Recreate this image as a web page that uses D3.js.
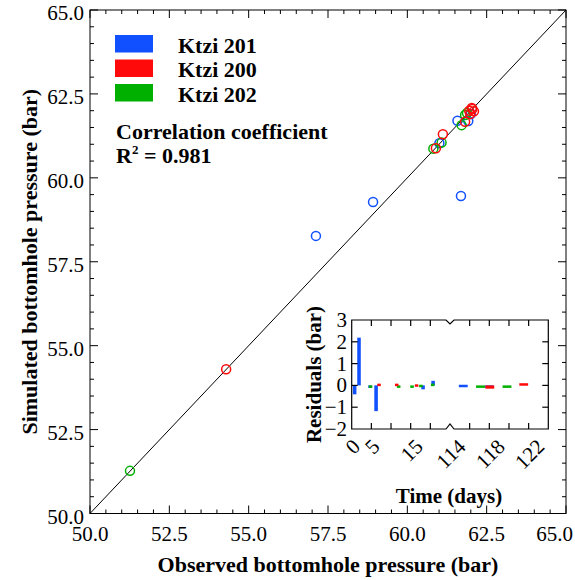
<!DOCTYPE html>
<html>
<head>
<meta charset="utf-8">
<script src="https://cdn.jsdelivr.net/npm/d3@7"></script>
<style>
  body { margin: 0; background: #fff; }
  svg { display: block; }
  text { font-family: "Liberation Serif", "Times New Roman", serif; fill: #000; }
</style>
</head>
<body>
<div id="chart"></div>
<script>

// Series
var seriesNames = ['Ktzi 201', 'Ktzi 200', 'Ktzi 202'];

// Observed vs simulated bottomhole pressure (bar)
var obs201 = [57.12, 58.92, 61.69, 61.01, 61.58, 61.92, 62.00];
var sim201 = [58.27, 59.28, 59.46, 61.03, 61.70, 61.69, 61.90];
var obs200 = [54.29, 60.90, 61.12, 61.82, 61.98, 62.03, 62.10, 61.95, 62.05];
var sim200 = [54.30, 60.88, 61.30, 61.67, 61.90, 62.08, 61.98, 62.00, 62.05];
var obs202 = [51.26, 60.82, 61.08, 61.71, 61.82, 61.88];
var sim202 = [51.27, 60.87, 61.05, 61.57, 61.87, 61.93];

// Residuals (bar) against time (days)
var t201 = [0.75, 1.86, 4.66, 6.2, 18.15, 20.7, 115.35, 118.0];
var r201 = [-0.41, 2.19, -0.05, -1.18, -0.18, 0.21, 0.03, -0.08];
var t200 = [6.95, 11.45, 16.5, 118.05, 121.5];
var r200 = [0.08, 0.08, 0.05, -0.15, 0.10];
var t202 = [4.8, 11.95, 15.35, 17.6, 20.6, 117.1, 119.8];
var r202 = [-0.06, -0.10, -0.09, 0.03, 0.08, -0.02, -0.06];

// Tick labels
var pressureTicks = [50, 52.5, 55, 57.5, 60, 62.5, 65];
var residualTicks = [-2, -1, 0, 1, 2, 3];
var timeLabelsLeft = [0, 5, 15];
var timeLabelsRight = [114, 118, 122];

var r2Text = '0.981';

// colours
var colors = { 'Ktzi 201': '#1150ff', 'Ktzi 200': '#ff0a0a', 'Ktzi 202': '#00b000' };

var W = 575, H = 580;
var svg = d3.select('#chart').append('svg').attr('width', W).attr('height', H);

// ---------- main scatter ----------
var x = d3.scaleLinear().domain([50, 65]).range([90, 566]);
var y = d3.scaleLinear().domain([50, 65]).range([513.5, 10]);

var axes = svg.append('g').attr('stroke', '#000').attr('stroke-width', 1);

var minors = d3.range(50, 65.001, 0.5).filter(function(v) { return pressureTicks.indexOf(+v.toFixed(1)) < 0; });
function tickLen(v) { return pressureTicks.indexOf(+v.toFixed(1)) >= 0 ? 8 : 4; }
var allTicks = pressureTicks.concat(minors);

allTicks.forEach(function(v) {
  var l = tickLen(v);
  axes.append('line').attr('x1', x(v)).attr('x2', x(v)).attr('y1', y(50)).attr('y2', y(50) - l);
  axes.append('line').attr('x1', x(v)).attr('x2', x(v)).attr('y1', y(65)).attr('y2', y(65) + l);
  axes.append('line').attr('y1', y(v)).attr('y2', y(v)).attr('x1', x(50)).attr('x2', x(50) + l);
  axes.append('line').attr('y1', y(v)).attr('y2', y(v)).attr('x1', x(65)).attr('x2', x(65) - l);
});

axes.append('rect')
  .attr('x', x(50)).attr('y', y(65))
  .attr('width', x(65) - x(50)).attr('height', y(50) - y(65))
  .attr('fill', 'none');

// 1:1 line
svg.append('line')
  .attr('x1', x(50)).attr('y1', y(50)).attr('x2', x(65)).attr('y2', y(65))
  .attr('stroke', '#000').attr('stroke-width', 1);

// tick labels (last one pulled in so it stays on the page)
svg.selectAll('.xl').data(pressureTicks).enter().append('text')
  .attr('x', function(d, i) { return i === pressureTicks.length - 1 ? 573 : x(d); })
  .attr('y', 541)
  .attr('text-anchor', function(d, i) { return i === pressureTicks.length - 1 ? 'end' : 'middle'; })
  .style('font-size', '21px')
  .text(function(d) { return d3.format('.1f')(d); });

svg.selectAll('.yl').data(pressureTicks).enter().append('text')
  .attr('x', 84)
  .attr('y', function(d) { return y(d) + 10; })
  .attr('text-anchor', 'end')
  .style('font-size', '21px')
  .text(function(d) { return d3.format('.1f')(d); });

// axis titles
svg.append('text')
  .attr('x', (x(50) + x(65)) / 2).attr('y', 572)
  .attr('text-anchor', 'middle')
  .style('font-size', '22px').style('font-weight', 'bold')
  .text('Observed bottomhole pressure (bar)');

svg.append('text')
  .attr('transform', 'translate(37,' + ((y(50) + y(65)) / 2) + ') rotate(-90)')
  .attr('text-anchor', 'middle')
  .style('font-size', '22px').style('font-weight', 'bold')
  .text('Simulated bottomhole pressure (bar)');

// points
function pairs(o, s) { return o.map(function(v, i) { return [v, s[i]]; }); }
var scatter = [
  { name: 'Ktzi 201', pts: pairs(obs201, sim201) },
  { name: 'Ktzi 202', pts: pairs(obs202, sim202) },
  { name: 'Ktzi 200', pts: pairs(obs200, sim200) }
];

scatter.forEach(function(s) {
  svg.append('g').selectAll('circle').data(s.pts).enter().append('circle')
    .attr('cx', function(d) { return x(d[0]); })
    .attr('cy', function(d) { return y(d[1]); })
    .attr('r', 4.5)
    .attr('fill', 'none')
    .attr('stroke', colors[s.name])
    .attr('stroke-width', 1.5);
});

// legend
var legend = svg.append('g');
seriesNames.forEach(function(n, i) {
  var top = 35 + i * 24.5;
  legend.append('rect').attr('x', 115).attr('y', top).attr('width', 38).attr('height', 17.5)
    .attr('fill', colors[n]);
  legend.append('text').attr('x', 178).attr('y', top + 17.5)
    .style('font-size', '22px').style('font-weight', 'bold')
    .text(n);
});

svg.append('text').attr('x', 116).attr('y', 139)
  .style('font-size', '22px').style('font-weight', 'bold')
  .text('Correlation coefficient');

var r2 = svg.append('text').attr('x', 116).attr('y', 163)
  .style('font-size', '22px').style('font-weight', 'bold');
r2.append('tspan').text('R');
r2.append('tspan').attr('dy', -9).style('font-size', '13px').text('2');
r2.append('tspan').attr('dy', 9).text(' = ' + r2Text);

// ---------- inset residuals ----------
var iL = 351.7, iR = 548.3, iB = 450, iT = 320, iBot = 429;
var xLeft = d3.scaleLinear().domain([0, 25]).range([iL, iB]);
var xRight = d3.scaleLinear().domain([114, 124]).range([iB, iR]);
function tx(t) { return t < 100 ? xLeft(t) : xRight(t); }
var yr = d3.scaleLinear().domain([-2, 3]).range([iBot, iT]);

var inset = svg.append('g');

inset.append('path')
  .attr('d', 'M' + iL + ',' + iT + 'H' + (iB - 4) + 'L' + iB + ',' + (iT + 4) + 'L' + (iB + 4) + ',' + iT +
    'H' + iR + 'V' + iBot + 'H' + (iB + 4) + 'L' + iB + ',' + (iBot - 5) + 'L' + (iB - 4) + ',' + iBot +
    'H' + iL + 'Z')
  .attr('fill', '#fff').attr('stroke', '#000').attr('stroke-width', 1.2);

// bars
var barDays = 0.9;
var resid = [
  { name: 'Ktzi 201', t: t201, r: r201 },
  { name: 'Ktzi 202', t: t202, r: r202 },
  { name: 'Ktzi 200', t: t200, r: r200 }
];
resid.forEach(function(s) {
  var d = s.t.map(function(t, i) { return [t, s.r[i]]; });
  inset.append('g').selectAll('rect').data(d).enter().append('rect')
    .attr('x', function(p) { return tx(p[0] - barDays / 2); })
    .attr('width', function(p) { return tx(p[0] + barDays / 2) - tx(p[0] - barDays / 2); })
    .attr('y', function(p) { return Math.min(yr(p[1]), yr(0)); })
    .attr('height', function(p) { return Math.max(Math.abs(yr(p[1]) - yr(0)), 2.5); })
    .attr('fill', colors[s.name]);
});

// inset ticks
var itk = inset.append('g').attr('stroke', '#000').attr('stroke-width', 1.2);
var xTicksIn = [5, 10, 15, 20, 116, 118, 120, 122];
xTicksIn.forEach(function(t) {
  itk.append('line').attr('x1', tx(t)).attr('x2', tx(t)).attr('y1', iT).attr('y2', iT + 6);
  itk.append('line').attr('x1', tx(t)).attr('x2', tx(t)).attr('y1', iBot).attr('y2', iBot - 6);
});
[-1, 0, 1, 2].forEach(function(v) {
  itk.append('line').attr('x1', iL).attr('x2', iL + 6).attr('y1', yr(v)).attr('y2', yr(v));
  itk.append('line').attr('x1', iR).attr('x2', iR - 6).attr('y1', yr(v)).attr('y2', yr(v));
});

// inset y labels
inset.selectAll('.ryl').data(residualTicks).enter().append('text')
  .attr('x', 347).attr('y', function(d) { return yr(d) + 7; })
  .attr('text-anchor', 'end')
  .style('font-size', '21px')
  .text(function(d) { return d < 0 ? '\u2212' + Math.abs(d) : d; });

// inset x labels, rotated
var tl = timeLabelsLeft.map(function(t) { return { t: t, x: xLeft(t) }; })
  .concat(timeLabelsRight.map(function(t) { return { t: t, x: xRight(t) }; }));
tl.forEach(function(d) {
  var txt = inset.append('text')
    .attr('text-anchor', 'middle')
    .attr('dominant-baseline', 'central')
    .style('font-size', '21px')
    .text(d.t);
  var len = txt.node().getComputedTextLength();
  var cy = 438 + len / 2 * 0.7071 + 5;
  txt.attr('transform', 'translate(' + (d.x + 1) + ',' + cy + ') rotate(-45)');
});

inset.append('text')
  .attr('transform', 'translate(321,' + ((iT + iBot) / 2) + ') rotate(-90)')
  .attr('text-anchor', 'middle')
  .style('font-size', '21px').style('font-weight', 'bold')
  .text('Residuals (bar)');

inset.append('text')
  .attr('x', 449).attr('y', 503)
  .attr('text-anchor', 'middle')
  .style('font-size', '21px').style('font-weight', 'bold')
  .text('Time (days)');

</script>
</body>
</html>
